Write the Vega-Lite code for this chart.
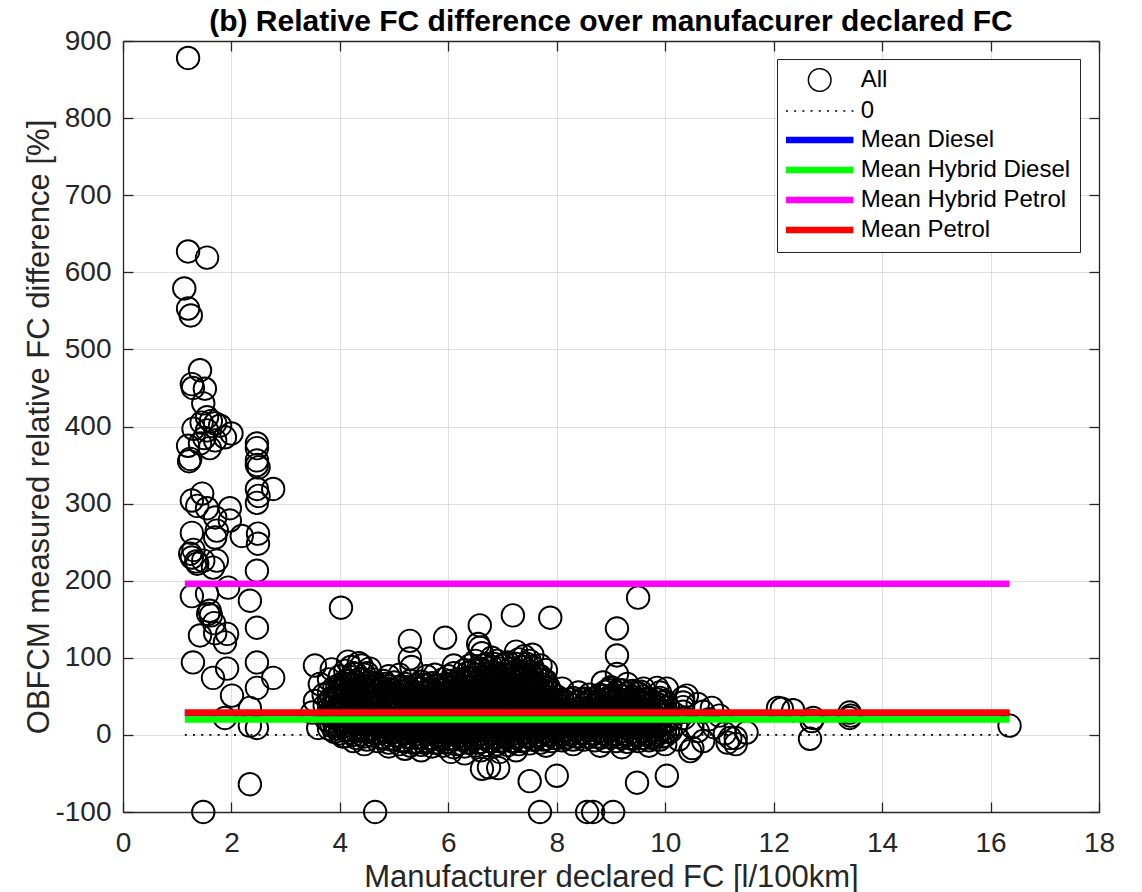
{
"$schema":"https://vega.github.io/schema/vega-lite/v6.json",
"width":976,"height":771,
"autosize":{"type":"none"},
"padding":{"left":123,"top":41,"right":43,"bottom":80},
"background":"white",
"config":{"view":{"stroke":null},
 "axis":{"labelFont":"Liberation Sans","labelFontSize":28,"labelColor":"#262626","titleFont":"Liberation Sans","titleFontSize":31,"titleFontWeight":"normal","titleColor":"#262626","tickColor":"#262626","tickWidth":1.3,"domainColor":"#262626","domainWidth":1.3,"gridColor":"#dfdfdf","gridWidth":1,"labelFlush":false,"labelOverlap":false}},
"title":{"text":"(b) Relative FC difference over manufacurer declared FC","anchor":"middle","font":"Liberation Sans","fontSize":30,"fontWeight":"bold","color":"#000000","offset":4,"baseline":"alphabetic","dy":38},
"datasets":{
"zero":[{"series":"0","x1":1.14,"x2":16.35,"y":0}],
"means":[{"series":"Mean Diesel","x1":1.14,"x2":16.35,"y":28},{"series":"Mean Hybrid Diesel","x1":1.14,"x2":16.35,"y":20},{"series":"Mean Hybrid Petrol","x1":1.14,"x2":16.35,"y":196},{"series":"Mean Petrol","x1":1.14,"x2":16.35,"y":29}],
"pts":[
{"x":3.8,"y":8},{"x":3.8,"y":17},{"x":3.8,"y":26},{"x":3.8,"y":35},{"x":3.8,"y":44},{"x":3.8,"y":55},
{"x":3.9,"y":4},{"x":3.9,"y":13},{"x":3.9,"y":22},{"x":3.9,"y":31},{"x":3.9,"y":40},{"x":3.9,"y":49},{"x":3.9,"y":62},
{"x":4.0,"y":2},{"x":4.0,"y":11},{"x":4.0,"y":20},{"x":4.0,"y":29},{"x":4.0,"y":38},{"x":4.0,"y":47},{"x":4.0,"y":56},{"x":4.0,"y":65},{"x":4.0,"y":76},
{"x":4.1,"y":-2},{"x":4.1,"y":7},{"x":4.1,"y":16},{"x":4.1,"y":25},{"x":4.1,"y":34},{"x":4.1,"y":43},{"x":4.1,"y":52},{"x":4.1,"y":61},{"x":4.1,"y":70},{"x":4.1,"y":83},
{"x":4.2,"y":3},{"x":4.2,"y":12},{"x":4.2,"y":21},{"x":4.2,"y":30},{"x":4.2,"y":39},{"x":4.2,"y":48},{"x":4.2,"y":57},{"x":4.2,"y":66},{"x":4.2,"y":75},{"x":4.2,"y":88},
{"x":4.3,"y":-4},{"x":4.3,"y":5},{"x":4.3,"y":14},{"x":4.3,"y":23},{"x":4.3,"y":32},{"x":4.3,"y":41},{"x":4.3,"y":50},{"x":4.3,"y":59},{"x":4.3,"y":68},{"x":4.3,"y":79},
{"x":4.4,"y":1},{"x":4.4,"y":10},{"x":4.4,"y":19},{"x":4.4,"y":28},{"x":4.4,"y":37},{"x":4.4,"y":46},{"x":4.4,"y":55},{"x":4.4,"y":64},{"x":4.4,"y":73},{"x":4.4,"y":90},
{"x":4.5,"y":-6},{"x":4.5,"y":4},{"x":4.5,"y":13},{"x":4.5,"y":22},{"x":4.5,"y":31},{"x":4.5,"y":40},{"x":4.5,"y":49},{"x":4.5,"y":58},{"x":4.5,"y":67},{"x":4.5,"y":80},
{"x":4.6,"y":-1},{"x":4.6,"y":8},{"x":4.6,"y":17},{"x":4.6,"y":26},{"x":4.6,"y":35},{"x":4.6,"y":44},{"x":4.6,"y":53},{"x":4.6,"y":62},{"x":4.6,"y":72},
{"x":4.7,"y":-8},{"x":4.7,"y":2},{"x":4.7,"y":11},{"x":4.7,"y":20},{"x":4.7,"y":29},{"x":4.7,"y":38},{"x":4.7,"y":47},{"x":4.7,"y":56},{"x":4.7,"y":65},
{"x":4.8,"y":-3},{"x":4.8,"y":6},{"x":4.8,"y":15},{"x":4.8,"y":24},{"x":4.8,"y":33},{"x":4.8,"y":42},{"x":4.8,"y":51},{"x":4.8,"y":60},{"x":4.8,"y":70},
{"x":4.9,"y":-10},{"x":4.9,"y":0},{"x":4.9,"y":9},{"x":4.9,"y":18},{"x":4.9,"y":27},{"x":4.9,"y":36},{"x":4.9,"y":45},{"x":4.9,"y":54},{"x":4.9,"y":63},
{"x":5.0,"y":-5},{"x":5.0,"y":4},{"x":5.0,"y":13},{"x":5.0,"y":22},{"x":5.0,"y":31},{"x":5.0,"y":40},{"x":5.0,"y":49},{"x":5.0,"y":58},{"x":5.0,"y":68},
{"x":5.1,"y":-12},{"x":5.1,"y":-2},{"x":5.1,"y":7},{"x":5.1,"y":16},{"x":5.1,"y":25},{"x":5.1,"y":34},{"x":5.1,"y":43},{"x":5.1,"y":52},{"x":5.1,"y":61},
{"x":5.2,"y":-7},{"x":5.2,"y":3},{"x":5.2,"y":12},{"x":5.2,"y":21},{"x":5.2,"y":30},{"x":5.2,"y":39},{"x":5.2,"y":48},{"x":5.2,"y":57},{"x":5.2,"y":66},
{"x":5.3,"y":-14},{"x":5.3,"y":-4},{"x":5.3,"y":5},{"x":5.3,"y":14},{"x":5.3,"y":23},{"x":5.3,"y":32},{"x":5.3,"y":41},{"x":5.3,"y":50},{"x":5.3,"y":59},{"x":5.3,"y":70},
{"x":5.4,"y":-9},{"x":5.4,"y":1},{"x":5.4,"y":10},{"x":5.4,"y":19},{"x":5.4,"y":28},{"x":5.4,"y":37},{"x":5.4,"y":46},{"x":5.4,"y":55},{"x":5.4,"y":64},
{"x":5.5,"y":-13},{"x":5.5,"y":-3},{"x":5.5,"y":6},{"x":5.5,"y":15},{"x":5.5,"y":24},{"x":5.5,"y":33},{"x":5.5,"y":42},{"x":5.5,"y":51},{"x":5.5,"y":60},{"x":5.5,"y":69},
{"x":5.6,"y":-8},{"x":5.6,"y":2},{"x":5.6,"y":11},{"x":5.6,"y":20},{"x":5.6,"y":29},{"x":5.6,"y":38},{"x":5.6,"y":47},{"x":5.6,"y":56},{"x":5.6,"y":65},
{"x":5.7,"y":-15},{"x":5.7,"y":-5},{"x":5.7,"y":4},{"x":5.7,"y":13},{"x":5.7,"y":22},{"x":5.7,"y":31},{"x":5.7,"y":40},{"x":5.7,"y":49},{"x":5.7,"y":58},{"x":5.7,"y":67},
{"x":5.8,"y":-10},{"x":5.8,"y":0},{"x":5.8,"y":9},{"x":5.8,"y":18},{"x":5.8,"y":27},{"x":5.8,"y":36},{"x":5.8,"y":45},{"x":5.8,"y":54},{"x":5.8,"y":63},
{"x":5.9,"y":-14},{"x":5.9,"y":-4},{"x":5.9,"y":5},{"x":5.9,"y":14},{"x":5.9,"y":23},{"x":5.9,"y":32},{"x":5.9,"y":41},{"x":5.9,"y":50},{"x":5.9,"y":59},{"x":5.9,"y":72},
{"x":6.0,"y":-9},{"x":6.0,"y":1},{"x":6.0,"y":10},{"x":6.0,"y":19},{"x":6.0,"y":28},{"x":6.0,"y":37},{"x":6.0,"y":46},{"x":6.0,"y":55},{"x":6.0,"y":64},{"x":6.0,"y":76},
{"x":6.1,"y":-16},{"x":6.1,"y":-6},{"x":6.1,"y":3},{"x":6.1,"y":12},{"x":6.1,"y":21},{"x":6.1,"y":30},{"x":6.1,"y":39},{"x":6.1,"y":48},{"x":6.1,"y":57},{"x":6.1,"y":66},{"x":6.1,"y":80},
{"x":6.2,"y":-11},{"x":6.2,"y":-1},{"x":6.2,"y":8},{"x":6.2,"y":17},{"x":6.2,"y":26},{"x":6.2,"y":35},{"x":6.2,"y":44},{"x":6.2,"y":53},{"x":6.2,"y":62},{"x":6.2,"y":72},
{"x":6.3,"y":-15},{"x":6.3,"y":-5},{"x":6.3,"y":4},{"x":6.3,"y":13},{"x":6.3,"y":22},{"x":6.3,"y":31},{"x":6.3,"y":40},{"x":6.3,"y":49},{"x":6.3,"y":58},{"x":6.3,"y":67},{"x":6.3,"y":84},
{"x":6.4,"y":-10},{"x":6.4,"y":0},{"x":6.4,"y":9},{"x":6.4,"y":18},{"x":6.4,"y":27},{"x":6.4,"y":36},{"x":6.4,"y":45},{"x":6.4,"y":54},{"x":6.4,"y":63},{"x":6.4,"y":72},{"x":6.4,"y":90},
{"x":6.5,"y":-14},{"x":6.5,"y":-4},{"x":6.5,"y":5},{"x":6.5,"y":14},{"x":6.5,"y":23},{"x":6.5,"y":32},{"x":6.5,"y":41},{"x":6.5,"y":50},{"x":6.5,"y":59},{"x":6.5,"y":68},{"x":6.5,"y":78},{"x":6.5,"y":96},
{"x":6.6,"y":-9},{"x":6.6,"y":1},{"x":6.6,"y":10},{"x":6.6,"y":19},{"x":6.6,"y":28},{"x":6.6,"y":37},{"x":6.6,"y":46},{"x":6.6,"y":55},{"x":6.6,"y":64},{"x":6.6,"y":73},{"x":6.6,"y":86},
{"x":6.7,"y":-13},{"x":6.7,"y":-3},{"x":6.7,"y":6},{"x":6.7,"y":15},{"x":6.7,"y":24},{"x":6.7,"y":33},{"x":6.7,"y":42},{"x":6.7,"y":51},{"x":6.7,"y":60},{"x":6.7,"y":69},{"x":6.7,"y":79},{"x":6.7,"y":92},
{"x":6.8,"y":-8},{"x":6.8,"y":2},{"x":6.8,"y":11},{"x":6.8,"y":20},{"x":6.8,"y":29},{"x":6.8,"y":38},{"x":6.8,"y":47},{"x":6.8,"y":56},{"x":6.8,"y":65},{"x":6.8,"y":74},{"x":6.8,"y":88},
{"x":6.9,"y":-12},{"x":6.9,"y":-2},{"x":6.9,"y":7},{"x":6.9,"y":16},{"x":6.9,"y":25},{"x":6.9,"y":34},{"x":6.9,"y":43},{"x":6.9,"y":52},{"x":6.9,"y":61},{"x":6.9,"y":70},{"x":6.9,"y":80},{"x":6.9,"y":96},
{"x":7.0,"y":-7},{"x":7.0,"y":3},{"x":7.0,"y":12},{"x":7.0,"y":21},{"x":7.0,"y":30},{"x":7.0,"y":39},{"x":7.0,"y":48},{"x":7.0,"y":57},{"x":7.0,"y":66},{"x":7.0,"y":75},{"x":7.0,"y":90},
{"x":7.1,"y":-13},{"x":7.1,"y":-3},{"x":7.1,"y":6},{"x":7.1,"y":15},{"x":7.1,"y":24},{"x":7.1,"y":33},{"x":7.1,"y":42},{"x":7.1,"y":51},{"x":7.1,"y":60},{"x":7.1,"y":69},{"x":7.1,"y":78},{"x":7.1,"y":94},
{"x":7.2,"y":-8},{"x":7.2,"y":2},{"x":7.2,"y":11},{"x":7.2,"y":20},{"x":7.2,"y":29},{"x":7.2,"y":38},{"x":7.2,"y":47},{"x":7.2,"y":56},{"x":7.2,"y":65},{"x":7.2,"y":74},{"x":7.2,"y":86},
{"x":7.3,"y":-12},{"x":7.3,"y":-2},{"x":7.3,"y":7},{"x":7.3,"y":16},{"x":7.3,"y":25},{"x":7.3,"y":34},{"x":7.3,"y":43},{"x":7.3,"y":52},{"x":7.3,"y":61},{"x":7.3,"y":70},{"x":7.3,"y":79},{"x":7.3,"y":98},
{"x":7.4,"y":-7},{"x":7.4,"y":3},{"x":7.4,"y":12},{"x":7.4,"y":21},{"x":7.4,"y":30},{"x":7.4,"y":39},{"x":7.4,"y":48},{"x":7.4,"y":57},{"x":7.4,"y":66},{"x":7.4,"y":75},{"x":7.4,"y":88},
{"x":7.5,"y":-11},{"x":7.5,"y":-1},{"x":7.5,"y":8},{"x":7.5,"y":17},{"x":7.5,"y":26},{"x":7.5,"y":35},{"x":7.5,"y":44},{"x":7.5,"y":53},{"x":7.5,"y":62},{"x":7.5,"y":71},{"x":7.5,"y":82},{"x":7.5,"y":96},
{"x":7.6,"y":-6},{"x":7.6,"y":4},{"x":7.6,"y":13},{"x":7.6,"y":22},{"x":7.6,"y":31},{"x":7.6,"y":40},{"x":7.6,"y":49},{"x":7.6,"y":58},{"x":7.6,"y":67},{"x":7.6,"y":80},
{"x":7.7,"y":-10},{"x":7.7,"y":0},{"x":7.7,"y":9},{"x":7.7,"y":18},{"x":7.7,"y":27},{"x":7.7,"y":36},{"x":7.7,"y":45},{"x":7.7,"y":54},{"x":7.7,"y":66},{"x":7.7,"y":76},
{"x":7.8,"y":-5},{"x":7.8,"y":4},{"x":7.8,"y":13},{"x":7.8,"y":22},{"x":7.8,"y":31},{"x":7.8,"y":40},{"x":7.8,"y":49},{"x":7.8,"y":60},{"x":7.8,"y":70},
{"x":7.9,"y":-8},{"x":7.9,"y":1},{"x":7.9,"y":10},{"x":7.9,"y":19},{"x":7.9,"y":28},{"x":7.9,"y":37},{"x":7.9,"y":46},{"x":7.9,"y":55},
{"x":8.0,"y":-4},{"x":8.0,"y":5},{"x":8.0,"y":14},{"x":8.0,"y":23},{"x":8.0,"y":32},{"x":8.0,"y":41},{"x":8.0,"y":50},
{"x":8.1,"y":-7},{"x":8.1,"y":2},{"x":8.1,"y":11},{"x":8.1,"y":20},{"x":8.1,"y":29},{"x":8.1,"y":38},{"x":8.1,"y":46},
{"x":8.2,"y":-3},{"x":8.2,"y":6},{"x":8.2,"y":15},{"x":8.2,"y":24},{"x":8.2,"y":33},{"x":8.2,"y":42},
{"x":8.3,"y":-6},{"x":8.3,"y":3},{"x":8.3,"y":12},{"x":8.3,"y":21},{"x":8.3,"y":30},{"x":8.3,"y":39},{"x":8.3,"y":48},
{"x":8.4,"y":-2},{"x":8.4,"y":7},{"x":8.4,"y":16},{"x":8.4,"y":25},{"x":8.4,"y":34},{"x":8.4,"y":43},
{"x":8.5,"y":-6},{"x":8.5,"y":3},{"x":8.5,"y":12},{"x":8.5,"y":21},{"x":8.5,"y":30},{"x":8.5,"y":39},{"x":8.5,"y":47},
{"x":8.6,"y":-3},{"x":8.6,"y":6},{"x":8.6,"y":15},{"x":8.6,"y":24},{"x":8.6,"y":33},{"x":8.6,"y":42},
{"x":8.7,"y":-7},{"x":8.7,"y":2},{"x":8.7,"y":11},{"x":8.7,"y":20},{"x":8.7,"y":29},{"x":8.7,"y":38},{"x":8.7,"y":48},
{"x":8.8,"y":-4},{"x":8.8,"y":5},{"x":8.8,"y":14},{"x":8.8,"y":23},{"x":8.8,"y":32},{"x":8.8,"y":41},{"x":8.8,"y":52},
{"x":8.9,"y":-8},{"x":8.9,"y":1},{"x":8.9,"y":10},{"x":8.9,"y":19},{"x":8.9,"y":28},{"x":8.9,"y":37},{"x":8.9,"y":46},{"x":8.9,"y":56},
{"x":9.0,"y":-3},{"x":9.0,"y":6},{"x":9.0,"y":15},{"x":9.0,"y":24},{"x":9.0,"y":33},{"x":9.0,"y":42},{"x":9.0,"y":51},{"x":9.0,"y":60},
{"x":9.1,"y":-8},{"x":9.1,"y":1},{"x":9.1,"y":10},{"x":9.1,"y":19},{"x":9.1,"y":28},{"x":9.1,"y":37},{"x":9.1,"y":46},{"x":9.1,"y":55},
{"x":9.2,"y":-4},{"x":9.2,"y":5},{"x":9.2,"y":14},{"x":9.2,"y":23},{"x":9.2,"y":32},{"x":9.2,"y":41},{"x":9.2,"y":50},{"x":9.2,"y":58},
{"x":9.3,"y":-9},{"x":9.3,"y":0},{"x":9.3,"y":9},{"x":9.3,"y":18},{"x":9.3,"y":27},{"x":9.3,"y":36},{"x":9.3,"y":45},{"x":9.3,"y":54},
{"x":9.4,"y":-5},{"x":9.4,"y":4},{"x":9.4,"y":13},{"x":9.4,"y":22},{"x":9.4,"y":31},{"x":9.4,"y":40},{"x":9.4,"y":49},{"x":9.4,"y":57},
{"x":9.5,"y":-8},{"x":9.5,"y":1},{"x":9.5,"y":10},{"x":9.5,"y":19},{"x":9.5,"y":28},{"x":9.5,"y":37},{"x":9.5,"y":46},{"x":9.5,"y":54},
{"x":9.6,"y":-4},{"x":9.6,"y":5},{"x":9.6,"y":14},{"x":9.6,"y":23},{"x":9.6,"y":32},{"x":9.6,"y":41},{"x":9.6,"y":50},
{"x":9.7,"y":-7},{"x":9.7,"y":2},{"x":9.7,"y":11},{"x":9.7,"y":20},{"x":9.7,"y":29},{"x":9.7,"y":38},{"x":9.7,"y":47},
{"x":9.8,"y":-3},{"x":9.8,"y":6},{"x":9.8,"y":15},{"x":9.8,"y":24},{"x":9.8,"y":33},{"x":9.8,"y":42},
{"x":9.9,"y":-6},{"x":9.9,"y":3},{"x":9.9,"y":12},{"x":9.9,"y":21},{"x":9.9,"y":30},{"x":9.9,"y":39},{"x":9.9,"y":48},
{"x":10.0,"y":-1},{"x":10.0,"y":8},{"x":10.0,"y":17},{"x":10.0,"y":26},{"x":10.0,"y":35},{"x":10.0,"y":44},
{"x":3.85,"y":12},{"x":3.85,"y":30},{"x":3.85,"y":48},
{"x":3.95,"y":8},{"x":3.95,"y":26},{"x":3.95,"y":44},{"x":3.95,"y":60},
{"x":4.05,"y":-2},{"x":4.05,"y":14},{"x":4.05,"y":30},{"x":4.05,"y":46},{"x":4.05,"y":62},
{"x":4.15,"y":6},{"x":4.15,"y":22},{"x":4.15,"y":38},{"x":4.15,"y":54},{"x":4.15,"y":70},
{"x":4.25,"y":0},{"x":4.25,"y":16},{"x":4.25,"y":32},{"x":4.25,"y":48},{"x":4.25,"y":64},{"x":4.25,"y":80},
{"x":4.35,"y":8},{"x":4.35,"y":24},{"x":4.35,"y":40},{"x":4.35,"y":56},{"x":4.35,"y":72},
{"x":4.45,"y":-2},{"x":4.45,"y":14},{"x":4.45,"y":30},{"x":4.45,"y":46},{"x":4.45,"y":62},{"x":4.45,"y":78},
{"x":4.55,"y":6},{"x":4.55,"y":22},{"x":4.55,"y":38},{"x":4.55,"y":54},{"x":4.55,"y":68},
{"x":4.65,"y":2},{"x":4.65,"y":18},{"x":4.65,"y":34},{"x":4.65,"y":50},{"x":4.65,"y":64},
{"x":4.75,"y":-4},{"x":4.75,"y":12},{"x":4.75,"y":28},{"x":4.75,"y":44},{"x":4.75,"y":60},
{"x":4.85,"y":4},{"x":4.85,"y":20},{"x":4.85,"y":36},{"x":4.85,"y":52},{"x":4.85,"y":66},
{"x":4.95,"y":-6},{"x":4.95,"y":10},{"x":4.95,"y":26},{"x":4.95,"y":42},{"x":4.95,"y":58},
{"x":5.05,"y":0},{"x":5.05,"y":16},{"x":5.05,"y":32},{"x":5.05,"y":48},{"x":5.05,"y":62},
{"x":5.15,"y":-8},{"x":5.15,"y":8},{"x":5.15,"y":24},{"x":5.15,"y":40},{"x":5.15,"y":56},
{"x":5.25,"y":-2},{"x":5.25,"y":14},{"x":5.25,"y":30},{"x":5.25,"y":46},{"x":5.25,"y":62},
{"x":5.35,"y":-10},{"x":5.35,"y":6},{"x":5.35,"y":22},{"x":5.35,"y":38},{"x":5.35,"y":54},
{"x":5.45,"y":-4},{"x":5.45,"y":12},{"x":5.45,"y":28},{"x":5.45,"y":44},{"x":5.45,"y":60},
{"x":5.55,"y":-10},{"x":5.55,"y":6},{"x":5.55,"y":22},{"x":5.55,"y":38},{"x":5.55,"y":54},{"x":5.55,"y":64},
{"x":5.65,"y":-4},{"x":5.65,"y":12},{"x":5.65,"y":28},{"x":5.65,"y":44},{"x":5.65,"y":60},
{"x":5.75,"y":-10},{"x":5.75,"y":6},{"x":5.75,"y":22},{"x":5.75,"y":38},{"x":5.75,"y":54},{"x":5.75,"y":64},
{"x":5.85,"y":-6},{"x":5.85,"y":10},{"x":5.85,"y":26},{"x":5.85,"y":42},{"x":5.85,"y":58},
{"x":5.95,"y":-10},{"x":5.95,"y":6},{"x":5.95,"y":22},{"x":5.95,"y":38},{"x":5.95,"y":54},{"x":5.95,"y":66},
{"x":6.05,"y":-4},{"x":6.05,"y":12},{"x":6.05,"y":28},{"x":6.05,"y":44},{"x":6.05,"y":60},{"x":6.05,"y":70},
{"x":6.15,"y":-12},{"x":6.15,"y":4},{"x":6.15,"y":20},{"x":6.15,"y":36},{"x":6.15,"y":52},{"x":6.15,"y":68},
{"x":6.25,"y":-6},{"x":6.25,"y":10},{"x":6.25,"y":26},{"x":6.25,"y":42},{"x":6.25,"y":58},{"x":6.25,"y":70},
{"x":6.35,"y":-10},{"x":6.35,"y":6},{"x":6.35,"y":22},{"x":6.35,"y":38},{"x":6.35,"y":54},{"x":6.35,"y":70},{"x":6.35,"y":80},
{"x":6.45,"y":-6},{"x":6.45,"y":10},{"x":6.45,"y":26},{"x":6.45,"y":42},{"x":6.45,"y":58},{"x":6.45,"y":74},{"x":6.45,"y":84},
{"x":6.55,"y":-10},{"x":6.55,"y":6},{"x":6.55,"y":22},{"x":6.55,"y":38},{"x":6.55,"y":54},{"x":6.55,"y":70},{"x":6.55,"y":86},
{"x":6.65,"y":-4},{"x":6.65,"y":12},{"x":6.65,"y":28},{"x":6.65,"y":44},{"x":6.65,"y":60},{"x":6.65,"y":76},{"x":6.65,"y":90},
{"x":6.75,"y":-8},{"x":6.75,"y":8},{"x":6.75,"y":24},{"x":6.75,"y":40},{"x":6.75,"y":56},{"x":6.75,"y":72},{"x":6.75,"y":86},
{"x":6.85,"y":-4},{"x":6.85,"y":12},{"x":6.85,"y":28},{"x":6.85,"y":44},{"x":6.85,"y":60},{"x":6.85,"y":76},{"x":6.85,"y":92},
{"x":6.95,"y":-8},{"x":6.95,"y":8},{"x":6.95,"y":24},{"x":6.95,"y":40},{"x":6.95,"y":56},{"x":6.95,"y":72},{"x":6.95,"y":86},
{"x":7.05,"y":-2},{"x":7.05,"y":14},{"x":7.05,"y":30},{"x":7.05,"y":46},{"x":7.05,"y":62},{"x":7.05,"y":78},{"x":7.05,"y":92},
{"x":7.15,"y":-8},{"x":7.15,"y":8},{"x":7.15,"y":24},{"x":7.15,"y":40},{"x":7.15,"y":56},{"x":7.15,"y":72},{"x":7.15,"y":86},
{"x":7.25,"y":-4},{"x":7.25,"y":12},{"x":7.25,"y":28},{"x":7.25,"y":44},{"x":7.25,"y":60},{"x":7.25,"y":76},{"x":7.25,"y":92},
{"x":7.35,"y":-8},{"x":7.35,"y":8},{"x":7.35,"y":24},{"x":7.35,"y":40},{"x":7.35,"y":56},{"x":7.35,"y":72},{"x":7.35,"y":88},
{"x":7.45,"y":-2},{"x":7.45,"y":14},{"x":7.45,"y":30},{"x":7.45,"y":46},{"x":7.45,"y":62},{"x":7.45,"y":78},{"x":7.45,"y":92},
{"x":7.55,"y":-6},{"x":7.55,"y":10},{"x":7.55,"y":26},{"x":7.55,"y":42},{"x":7.55,"y":58},{"x":7.55,"y":74},{"x":7.55,"y":88},
{"x":7.65,"y":-2},{"x":7.65,"y":14},{"x":7.65,"y":30},{"x":7.65,"y":46},{"x":7.65,"y":62},{"x":7.65,"y":76},
{"x":7.75,"y":-6},{"x":7.75,"y":10},{"x":7.75,"y":26},{"x":7.75,"y":42},{"x":7.75,"y":58},{"x":7.75,"y":72},
{"x":7.85,"y":0},{"x":7.85,"y":16},{"x":7.85,"y":32},{"x":7.85,"y":48},{"x":7.85,"y":62},
{"x":7.95,"y":-4},{"x":7.95,"y":12},{"x":7.95,"y":28},{"x":7.95,"y":44},
{"x":8.05,"y":0},{"x":8.05,"y":16},{"x":8.05,"y":32},{"x":8.05,"y":44},
{"x":8.15,"y":-4},{"x":8.15,"y":12},{"x":8.15,"y":28},{"x":8.15,"y":40},
{"x":8.25,"y":0},{"x":8.25,"y":16},{"x":8.25,"y":32},{"x":8.25,"y":46},
{"x":8.35,"y":-2},{"x":8.35,"y":14},{"x":8.35,"y":30},{"x":8.35,"y":42},
{"x":8.45,"y":2},{"x":8.45,"y":18},{"x":8.45,"y":34},{"x":8.45,"y":46},
{"x":8.55,"y":-2},{"x":8.55,"y":14},{"x":8.55,"y":30},{"x":8.55,"y":42},
{"x":8.65,"y":2},{"x":8.65,"y":18},{"x":8.65,"y":34},{"x":8.65,"y":46},
{"x":8.75,"y":-2},{"x":8.75,"y":14},{"x":8.75,"y":30},{"x":8.75,"y":44},
{"x":8.85,"y":2},{"x":8.85,"y":18},{"x":8.85,"y":34},{"x":8.85,"y":50},
{"x":8.95,"y":-2},{"x":8.95,"y":14},{"x":8.95,"y":30},{"x":8.95,"y":46},{"x":8.95,"y":58},
{"x":9.05,"y":2},{"x":9.05,"y":18},{"x":9.05,"y":34},{"x":9.05,"y":50},
{"x":9.15,"y":-2},{"x":9.15,"y":14},{"x":9.15,"y":30},{"x":9.15,"y":46},{"x":9.15,"y":58},
{"x":9.25,"y":2},{"x":9.25,"y":18},{"x":9.25,"y":34},{"x":9.25,"y":50},
{"x":9.35,"y":-4},{"x":9.35,"y":12},{"x":9.35,"y":28},{"x":9.35,"y":44},{"x":9.35,"y":56},
{"x":9.45,"y":0},{"x":9.45,"y":16},{"x":9.45,"y":32},{"x":9.45,"y":48},
{"x":9.55,"y":-4},{"x":9.55,"y":12},{"x":9.55,"y":28},{"x":9.55,"y":44},{"x":9.55,"y":56},
{"x":9.65,"y":0},{"x":9.65,"y":16},{"x":9.65,"y":32},{"x":9.65,"y":46},
{"x":9.75,"y":-4},{"x":9.75,"y":12},{"x":9.75,"y":28},{"x":9.75,"y":42},
{"x":9.85,"y":0},{"x":9.85,"y":16},{"x":9.85,"y":32},{"x":9.85,"y":46},
{"x":9.95,"y":-2},{"x":9.95,"y":14},{"x":9.95,"y":30},{"x":9.95,"y":42},
{"x":10.05,"y":4},{"x":10.05,"y":20},{"x":10.05,"y":36},
{"x":1.2,"y":878},
{"x":1.2,"y":627},{"x":1.55,"y":619},{"x":1.13,"y":579},{"x":1.2,"y":553},{"x":1.25,"y":544},
{"x":1.42,"y":473},{"x":1.27,"y":455},{"x":1.29,"y":450},{"x":1.51,"y":449},{"x":1.48,"y":430},{"x":1.55,"y":412},{"x":1.45,"y":405},{"x":1.62,"y":407},{"x":1.7,"y":404},{"x":1.3,"y":397},{"x":1.55,"y":395},{"x":1.79,"y":401},{"x":2.0,"y":391},{"x":1.2,"y":375},{"x":1.42,"y":378},{"x":1.7,"y":382},{"x":1.6,"y":372},{"x":1.5,"y":385},{"x":1.88,"y":386},{"x":1.24,"y":358},{"x":1.22,"y":355},
{"x":2.47,"y":378},{"x":2.47,"y":372},{"x":2.47,"y":356},{"x":2.47,"y":350},{"x":2.5,"y":347},{"x":2.47,"y":319},{"x":2.77,"y":319},{"x":2.5,"y":310},{"x":2.47,"y":301},{"x":2.49,"y":261},{"x":2.49,"y":248},{"x":2.47,"y":213},
{"x":1.27,"y":304},{"x":1.46,"y":313},{"x":1.37,"y":297},{"x":1.55,"y":294},{"x":1.7,"y":282},{"x":1.97,"y":294},{"x":1.97,"y":278},{"x":2.19,"y":258},{"x":1.27,"y":262},{"x":1.73,"y":265},{"x":1.7,"y":256},{"x":1.27,"y":230},{"x":1.48,"y":226},{"x":1.24,"y":235},{"x":1.37,"y":222},{"x":1.73,"y":226},{"x":1.66,"y":217},{"x":1.3,"y":240},{"x":1.35,"y":225},{"x":1.27,"y":180},{"x":1.55,"y":183},{"x":1.94,"y":191},{"x":2.34,"y":174},{"x":1.6,"y":161},{"x":1.62,"y":155},{"x":1.68,"y":145},{"x":1.42,"y":129},{"x":1.7,"y":132},{"x":1.92,"y":131},{"x":1.57,"y":157},{"x":2.47,"y":139},{"x":1.88,"y":120},
{"x":1.29,"y":94},{"x":1.66,"y":74},{"x":1.92,"y":86},{"x":2.01,"y":51},{"x":2.47,"y":94},{"x":2.47,"y":61},{"x":2.77,"y":74},{"x":2.34,"y":35},{"x":1.88,"y":22},{"x":2.34,"y":12},{"x":2.47,"y":9},{"x":2.34,"y":-64},{"x":1.48,"y":-100},
{"x":3.54,"y":90},{"x":3.63,"y":66},{"x":3.54,"y":44},{"x":3.49,"y":29},{"x":3.6,"y":9},{"x":3.72,"y":38},{"x":3.75,"y":20},{"x":3.7,"y":52},{"x":3.8,"y":72},{"x":3.85,"y":85},
{"x":4.02,"y":165},
{"x":4.15,"y":95},{"x":4.35,"y":93},{"x":4.55,"y":86},{"x":4.25,"y":-8},{"x":4.45,"y":-12},
{"x":5.29,"y":122},{"x":5.29,"y":99},{"x":5.32,"y":88},{"x":5.1,"y":78},{"x":4.9,"y":76},{"x":5.6,"y":76},{"x":5.75,"y":78},
{"x":5.94,"y":126},{"x":6.1,"y":90},{"x":6.05,"y":-22},{"x":6.3,"y":-24},{"x":6.6,"y":-20},{"x":6.95,"y":-22},{"x":7.25,"y":-20},{"x":5.5,"y":-20},{"x":5.2,"y":-18},{"x":4.9,"y":-15},
{"x":6.58,"y":142},{"x":6.58,"y":113},{"x":6.55,"y":118},{"x":6.62,"y":106},{"x":6.8,"y":100},
{"x":7.19,"y":155},{"x":7.25,"y":108},{"x":7.4,"y":102},{"x":7.55,"y":104},{"x":7.7,"y":90},{"x":7.8,"y":84},
{"x":7.88,"y":152},
{"x":8.1,"y":60},{"x":8.4,"y":55},{"x":8.6,"y":52},{"x":8.3,"y":-12},{"x":8.8,"y":-14},{"x":9.2,"y":-16},{"x":9.7,"y":-14},{"x":7.8,"y":-14},
{"x":9.5,"y":178},{"x":9.11,"y":138},{"x":9.11,"y":103},{"x":9.11,"y":79},{"x":8.85,"y":68},{"x":9.0,"y":62},{"x":9.3,"y":66},{"x":9.6,"y":60},{"x":9.85,"y":61},{"x":9.9,"y":55},
{"x":10.03,"y":60},{"x":10.4,"y":51},{"x":10.33,"y":48},{"x":10.33,"y":42},{"x":10.33,"y":36},{"x":10.33,"y":30},{"x":10.35,"y":22},{"x":10.2,"y":14},{"x":10.1,"y":5},{"x":10.25,"y":-6},{"x":10.0,"y":-12},{"x":10.5,"y":-17},{"x":10.46,"y":-21},{"x":10.6,"y":40},{"x":10.7,"y":30},{"x":10.86,"y":35},{"x":10.8,"y":20},{"x":10.9,"y":10},{"x":11.0,"y":25},{"x":10.6,"y":5},{"x":11.1,"y":2},{"x":11.2,"y":-4},{"x":11.3,"y":-4},{"x":11.15,"y":-10},{"x":11.3,"y":-12},{"x":11.5,"y":3},{"x":10.5,"y":10},{"x":10.7,"y":-8},
{"x":12.08,"y":35},{"x":12.15,"y":34},{"x":12.36,"y":32},{"x":12.67,"y":-5},{"x":12.73,"y":22},{"x":12.7,"y":18},{"x":13.4,"y":22},{"x":13.4,"y":29},{"x":13.42,"y":25},{"x":16.35,"y":12},
{"x":9.48,"y":-62},{"x":10.03,"y":-53},{"x":7.5,"y":-60},{"x":8.0,"y":-53},{"x":6.62,"y":-44},{"x":6.92,"y":-43},{"x":6.75,"y":-42},
{"x":4.65,"y":-100},{"x":7.69,"y":-100},{"x":8.56,"y":-100},{"x":8.67,"y":-100},{"x":9.04,"y":-100}
]},
"layer":[
{"data":{"name":"pts"},
 "mark":{"type":"point","shape":"circle","filled":false,"size":506,"strokeWidth":1.9,"color":"#000000","opacity":1},
 "encoding":{
  "x":{"field":"x","type":"quantitative","scale":{"domain":[0,18],"nice":false,"zero":false},
   "axis":{"orient":"bottom","values":[0,2,4,6,8,10,12,14,16,18],"grid":true,"tickSize":-10,"labelPadding":27,"labelExpr":"'' + datum.value","title":"Manufacturer declared FC [l/100km]","titleX":488,"titleY":74,"titleAlign":"center","titleBaseline":"alphabetic"}},
  "y":{"field":"y","type":"quantitative","scale":{"domain":[-100,900],"nice":false,"zero":false},
   "axis":{"orient":"left","values":[-100,0,100,200,300,400,500,600,700,800,900],"grid":true,"tickSize":-10,"labelPadding":22,"labelExpr":"'' + datum.value","title":"OBFCM measured relative FC difference [%]","titleAngle":-90,"titleX":-75,"titleY":385.5,"titleAlign":"center","titleBaseline":"alphabetic"}}
 }},
{"data":{"name":"zero"},
 "mark":{"type":"rule","strokeDash":[2,6.2],"strokeWidth":1.6},
 "encoding":{
  "x":{"field":"x1","type":"quantitative","scale":{"domain":[0,18],"nice":false,"zero":false},
   "axis":{"orient":"top","values":[0,2,4,6,8,10,12,14,16,18],"grid":false,"labels":false,"tickSize":-10,"title":null}},
  "x2":{"field":"x2"},
  "y":{"field":"y","type":"quantitative","scale":{"domain":[-100,900],"nice":false,"zero":false},
   "axis":{"orient":"right","values":[-100,0,100,200,300,400,500,600,700,800,900],"grid":false,"labels":false,"tickSize":-10,"title":null}},
  "color":{"field":"series","type":"nominal",
   "scale":{"domain":["All","0","Mean Diesel","Mean Hybrid Diesel","Mean Hybrid Petrol","Mean Petrol"],"range":["#000000","#000000","#0000ff","#00ff00","#ff00ff","#ff0000"]},
   "legend":{"orient":"none","legendX":654,"legendY":18,"title":null,"padding":9,"rowPadding":4,"symbolSize":306,"symbolStrokeWidth":1.5,"symbolOffset":21.7,"labelOffset":29,"labelFont":"Liberation Sans","labelFontSize":24,"labelColor":"#000000","labelLimit":400,"fillColor":"#ffffff","strokeColor":"#262626",
    "encode":{"symbols":{"update":{
      "shape":{"signal":"(datum.value === 'All' ? 'M1.29,0A1.29,1.29,0,1,1,-1.29,0A1.29,1.29,0,1,1,1.29,0Z' : 'M-3.86,0H3.86')"},
      "stroke":{"signal":"scale('color', datum.value)"},
      "fill":{"value":"transparent"},
      "strokeWidth":{"signal":"((datum.value === 'All' || datum.value === '0') ? 1.5 : 6.5)"},
      "strokeDash":{"signal":"(datum.value === '0' ? [2, 6.2] : [1, 0])"},
      "opacity":{"value":1}}}}}}
 }},
{"data":{"name":"means"},
 "mark":{"type":"rule","strokeWidth":6.5},
 "encoding":{
  "x":{"field":"x1","type":"quantitative","scale":{"domain":[0,18],"nice":false,"zero":false},"axis":null},
  "x2":{"field":"x2"},
  "y":{"field":"y","type":"quantitative","scale":{"domain":[-100,900],"nice":false,"zero":false},"axis":null},
  "color":{"field":"series","type":"nominal","scale":{"domain":["All","0","Mean Diesel","Mean Hybrid Diesel","Mean Hybrid Petrol","Mean Petrol"],"range":["#000000","#000000","#0000ff","#00ff00","#ff00ff","#ff0000"]}}
 }}
],
"resolve":{"axis":{"x":"independent","y":"independent"}}
}
